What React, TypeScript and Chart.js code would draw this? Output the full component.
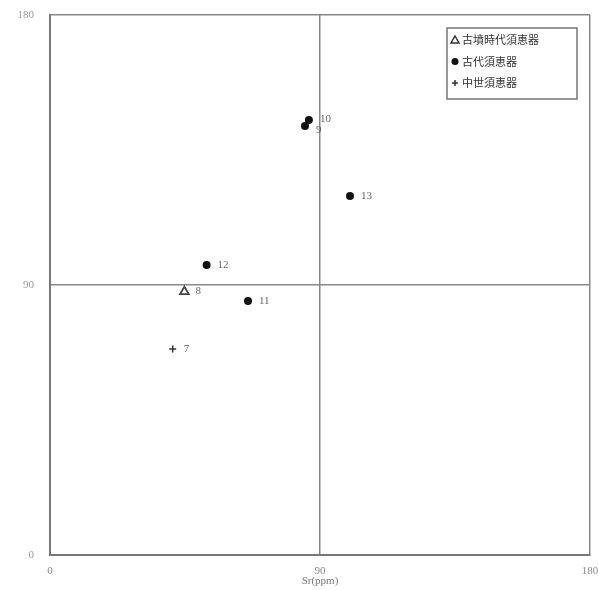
import React, { useEffect, useRef } from "react";
import { Chart, registerables } from "chart.js";

Chart.register(...registerables);

const seriesNames = ["古墳時代須恵器", "古代須恵器", "中世須恵器"];
const kofunX = [44.8];
const kofunY = [87.8];
const kofunLabels = ["8"];
const kodaiX = [86.3, 85.0, 100.0, 52.2, 66.0];
const kodaiY = [145.0, 143.0, 119.7, 96.7, 84.7];
const kodaiLabels = ["10", "9", "13", "12", "11"];
const chuseiX = [40.9];
const chuseiY = [68.7];
const chuseiLabels = ["7"];
const tickValues = [0, 90, 180];
const xTitle = "Sr(ppm)";

const toPts = (xs: number[], ys: number[]) => xs.map((x, i) => ({ x, y: ys[i] }));

const pointLabelPlugin = {
  id: "pointLabels",
  afterDatasetsDraw(chart: any) {
    const ctx = chart.ctx;
    ctx.save();
    ctx.font = "11px 'Liberation Serif', 'DejaVu Serif', serif";
    ctx.fillStyle = "#666";
    ctx.textBaseline = "middle";
    ctx.textAlign = "left";
    chart.data.datasets.forEach((ds: any, di: number) => {
      const meta = chart.getDatasetMeta(di);
      meta.data.forEach((el: any, i: number) => {
        const lbl = ds.pointLabels[i];
        const dy = lbl === "9" ? 4 : lbl === "10" ? -1 : 0;
        ctx.fillText(lbl, el.x + 11, el.y + dy);
      });
    });
    ctx.restore();
  },
};

const legendPlugin = {
  id: "boxLegend",
  afterDraw(chart: any) {
    const ctx = chart.ctx;
    const a = chart.chartArea;
    const w = 130;
    const h = 71;
    const x0 = a.right - 13 - w;
    const y0 = a.top + 13;
    ctx.save();
    ctx.fillStyle = "#fff";
    ctx.fillRect(x0, y0, w, h);
    ctx.strokeStyle = "#777";
    ctx.lineWidth = 1.5;
    ctx.strokeRect(x0, y0, w, h);
    ctx.font = "11px 'Noto Sans CJK JP', sans-serif";
    ctx.textBaseline = "middle";
    ctx.textAlign = "left";
    chart.data.datasets.forEach((ds: any, i: number) => {
      const cy = y0 + 12 + i * 21.5;
      const mx = x0 + 8;
      ctx.strokeStyle = "#333";
      ctx.fillStyle = "#111";
      ctx.lineWidth = 1.5;
      if (ds.pointStyle === "triangle") {
        ctx.beginPath();
        ctx.moveTo(mx, cy - 4);
        ctx.lineTo(mx + 4, cy + 3);
        ctx.lineTo(mx - 4, cy + 3);
        ctx.closePath();
        ctx.stroke();
      } else if (ds.pointStyle === "circle") {
        ctx.beginPath();
        ctx.arc(mx, cy, 3.5, 0, Math.PI * 2);
        ctx.fill();
      } else {
        ctx.beginPath();
        ctx.moveTo(mx - 3, cy);
        ctx.lineTo(mx + 3, cy);
        ctx.moveTo(mx, cy - 3);
        ctx.lineTo(mx, cy + 3);
        ctx.stroke();
      }
      ctx.fillStyle = "#333";
      ctx.fillText(ds.label, mx + 7, cy);
    });
    ctx.restore();
  },
};

export default function App() {
  const ref = useRef<HTMLCanvasElement>(null);
  useEffect(() => {
    document.body.style.margin = "0";
    const tickFont = { family: "'Liberation Serif', 'DejaVu Serif', serif", size: 11 };
    const chart = new Chart(ref.current!, {
      type: "scatter",
      data: {
        datasets: [
          {
            label: seriesNames[0],
            data: toPts(kofunX, kofunY),
            pointStyle: "triangle",
            radius: 5,
            backgroundColor: "#fff",
            borderColor: "#444",
            borderWidth: 1.8,
            pointLabels: kofunLabels,
          } as any,
          {
            label: seriesNames[1],
            data: toPts(kodaiX, kodaiY),
            pointStyle: "circle",
            radius: 4,
            backgroundColor: "#111",
            borderColor: "#111",
            borderWidth: 0,
            pointLabels: kodaiLabels,
          } as any,
          {
            label: seriesNames[2],
            data: toPts(chuseiX, chuseiY),
            pointStyle: "cross",
            radius: 3.5,
            backgroundColor: "#333",
            borderColor: "#333",
            borderWidth: 1.5,
            pointLabels: chuseiLabels,
          } as any,
        ],
      },
      options: {
        responsive: false,
        animation: false,
        layout: { padding: { top: 15, right: 8, left: 0, bottom: 0 } },
        plugins: { legend: { display: false }, tooltip: { enabled: false } },
        scales: {
          x: {
            type: "linear",
            min: 0,
            max: 180,
            afterBuildTicks: (s: any) => {
              s.ticks = tickValues.map((v) => ({ value: v }));
            },
            afterFit: (s: any) => {
              s.height = 35;
              s.paddingLeft = 0;
              s.paddingRight = 0;
            },
            grid: { color: "#888", lineWidth: 1.5, drawTicks: false },
            border: { color: "#777", width: 2 },
            ticks: { color: "#888", font: tickFont, padding: 10, maxRotation: 0 },
            title: {
              display: true,
              text: xTitle,
              color: "#777",
              font: tickFont,
              padding: { top: 0, bottom: 2 },
            },
          },
          y: {
            type: "linear",
            min: 0,
            max: 180,
            afterBuildTicks: (s: any) => {
              s.ticks = tickValues.map((v) => ({ value: v }));
            },
            afterFit: (s: any) => {
              s.width = 50;
              s.paddingTop = 0;
              s.paddingBottom = 0;
            },
            grid: { color: "#888", lineWidth: 1.5, drawTicks: false },
            border: { color: "#777", width: 2 },
            ticks: { color: "#999", font: tickFont, padding: 16 },
          },
        },
      },
      plugins: [pointLabelPlugin, legendPlugin],
    } as any);
    return () => chart.destroy();
  }, []);
  return (
    <div style={{ position: "fixed", left: 0, top: 0, width: 598, height: 590 }}>
      <canvas ref={ref} width={598} height={590} style={{ width: 598, height: 590 }} />
    </div>
  );
}
